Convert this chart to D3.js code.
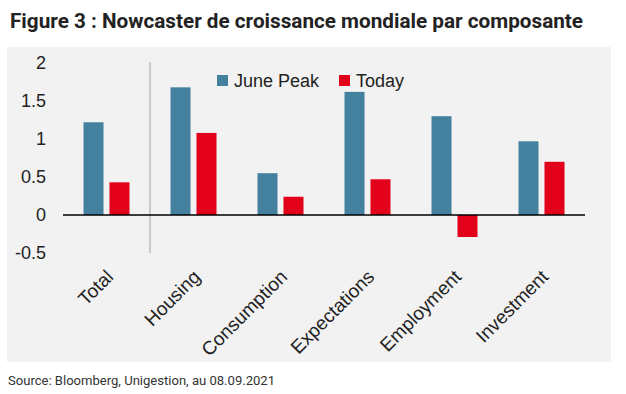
<!DOCTYPE html>
<html>
<head>
<meta charset="utf-8">
<script src="https://cdn.jsdelivr.net/npm/d3@7"></script>
<style>
  body { margin: 0; background: #fff; }
  svg { display: block; }
</style>
</head>
<body>
<svg id="chart" width="626" height="394"></svg>
<script>
// chart data
const categories = ["Total", "Housing", "Consumption", "Expectations", "Employment", "Investment"];
const seriesNames = ["June Peak", "Today"];
const junePeak = [1.22, 1.68, 0.55, 1.62, 1.30, 0.97];
const today = [0.43, 1.08, 0.24, 0.47, -0.29, 0.70];
const yTicks = [2, 1.5, 1, 0.5, 0, -0.5];
const colors = ["#44819f", "#e2001a"];

const svg = d3.select("#chart");

// background panel
svg.append("rect")
  .attr("x", 7).attr("y", 47)
  .attr("width", 604).attr("height", 315)
  .attr("fill", "#f2f2f2");

// title
svg.append("text")
  .attr("x", 10).attr("y", 28)
  .attr("textLength", 573)
  .attr("lengthAdjust", "spacingAndGlyphs")
  .style("font", "bold 21px Roboto, sans-serif")
  .attr("fill", "#222")
  .text("Figure 3 : Nowcaster de croissance mondiale par composante");

// scales
const x0 = d3.scaleBand().domain(categories).range([63, 585]);
const x1 = d3.scaleBand().domain(seriesNames).range([20.5, 66.5]).paddingInner(0.23);
const y = d3.scaleLinear().domain([-0.5, 2]).range([253, 63]);

const rows = categories.map((c, i) => ({ cat: c, values: [junePeak[i], today[i]] }));

// y tick labels
svg.append("g")
  .selectAll("text")
  .data(yTicks)
  .join("text")
  .attr("x", 46)
  .attr("y", d => y(d))
  .attr("dy", "0.35em")
  .attr("text-anchor", "end")
  .style("font", "18px 'Liberation Sans', Arial, sans-serif")
  .attr("fill", "#222")
  .text(d => d);

// separator between Total and the components
svg.append("line")
  .attr("x1", x0("Housing")).attr("x2", x0("Housing"))
  .attr("y1", 62).attr("y2", 253)
  .attr("stroke", "#bdbdbd")
  .attr("stroke-width", 1.5);

// bars
const groups = svg.append("g")
  .selectAll("g")
  .data(rows)
  .join("g")
  .attr("transform", d => `translate(${x0(d.cat)},0)`);

groups.selectAll("rect")
  .data(d => d.values.map((v, j) => ({ key: seriesNames[j], v: v, j: j })))
  .join("rect")
  .attr("x", d => x1(d.key))
  .attr("width", x1.bandwidth())
  .attr("y", d => y(Math.max(0, d.v)))
  .attr("height", d => Math.abs(y(d.v) - y(0)))
  .attr("fill", d => colors[d.j]);

// zero line
svg.append("line")
  .attr("x1", 63).attr("x2", 585)
  .attr("y1", y(0)).attr("y2", y(0))
  .attr("stroke", "#000")
  .attr("stroke-width", 1.5);

// category labels, rotated
svg.append("g")
  .selectAll("text")
  .data(categories)
  .join("text")
  .attr("text-anchor", "end")
  .attr("transform", d => `translate(${x0(d) + x0.bandwidth() / 2 + 8},278) rotate(-45)`)
  .style("font", "19px 'Liberation Sans', Arial, sans-serif")
  .attr("fill", "#222")
  .text(d => d);

// legend
const legend = svg.append("g")
  .selectAll("g")
  .data(seriesNames)
  .join("g")
  .attr("transform", (d, i) => `translate(${[217, 339][i]},75)`);

legend.append("rect")
  .attr("width", 11).attr("height", 11)
  .attr("fill", (d, i) => colors[i]);

legend.append("text")
  .attr("x", 17).attr("y", 12)
  .style("font", "18px 'Liberation Sans', Arial, sans-serif")
  .attr("fill", "#222")
  .text(d => d);

// source note
svg.append("text")
  .attr("x", 8).attr("y", 385)
  .attr("textLength", 267)
  .attr("lengthAdjust", "spacingAndGlyphs")
  .style("font", "12px Roboto, sans-serif")
  .attr("fill", "#333")
  .text("Source: Bloomberg, Unigestion, au 08.09.2021");
</script>
</body>
</html>
